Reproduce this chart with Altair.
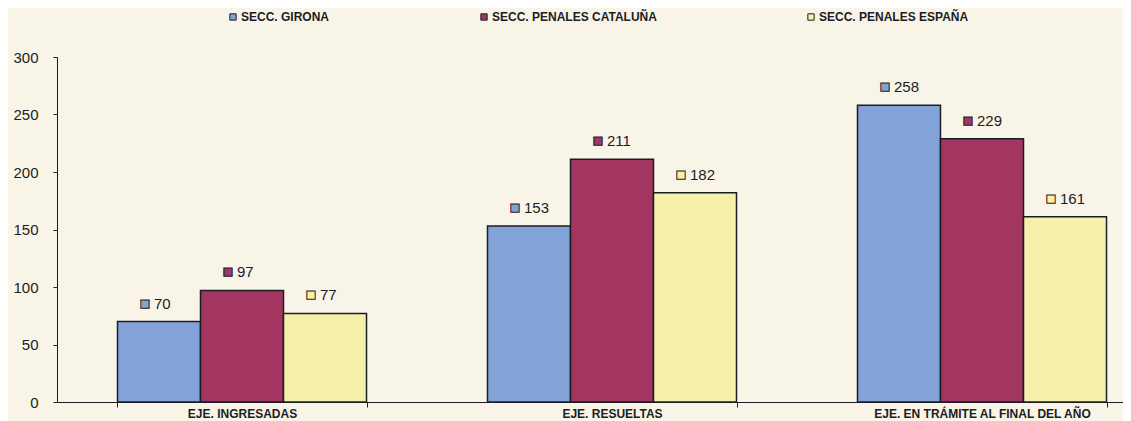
import altair as alt
import pandas as pd

categories = ["EJE. INGRESADAS", "EJE. RESUELTAS", "EJE. EN TRÁMITE AL FINAL DEL AÑO"]
series = ["SECC. GIRONA", "SECC. PENALES CATALUÑA", "SECC. PENALES ESPAÑA"]
girona = [70, 153, 258]
cataluna = [97, 211, 229]
espana = [77, 182, 161]
colors = ["#82a2d8", "#a23660", "#f7f0ab"]
y_ticks = [0, 50, 100, 150, 200, 250, 300]

rows = []
for i, c in enumerate(categories):
    for s, vals in zip(series, [girona, cataluna, espana]):
        rows.append({"cat": c, "serie": s, "valor": vals[i]})
df = pd.DataFrame(rows)

DARK = "#1c1c24"

x_enc = alt.X(
    "cat:N",
    sort=categories,
    scale=alt.Scale(range=[0, 1110], paddingInner=0.327, paddingOuter=0.1635),
    axis=alt.Axis(
        title=None, labelAngle=0, tickBand="extent", tickSize=5,
        labelPadding=1, labelFont="Liberation Sans", labelFontWeight="bold",
        labelFontSize=12, labelColor=DARK, domainColor=DARK, tickColor=DARK,
        labelLimit=400,
    ),
)
xo_enc = alt.XOffset("serie:N", sort=series, scale=alt.Scale(paddingInner=0, paddingOuter=0))
y_enc = alt.Y(
    "valor:Q",
    scale=alt.Scale(domain=[0, 300], nice=False),
    axis=alt.Axis(
        title=None, values=y_ticks, grid=False, tickSize=4, labelPadding=15,
        labelFont="Liberation Sans", labelFontSize=15, labelColor=DARK,
        domainColor=DARK, tickColor=DARK,
    ),
)
color_scale = alt.Scale(domain=series, range=colors)

bars = alt.Chart(df).mark_bar(stroke=DARK, strokeWidth=1.5).encode(
    x=x_enc, xOffset=xo_enc, y=y_enc,
    color=alt.Color(
        "serie:N", sort=series, scale=color_scale,
        legend=alt.Legend(
            title=None, orient="none", legendX=170, legendY=-46,
            direction="horizontal", symbolType="square", symbolSize=40,
            symbolStrokeColor=DARK, symbolStrokeWidth=1, labelFont="Liberation Sans",
            labelFontWeight="bold", labelFontSize=12, labelColor=DARK,
            columnPadding=148, labelOffset=2, labelLimit=400,
        ),
    ),
)

markers = alt.Chart(df).mark_text(
    text="■", align="center", baseline="middle", dx=-14, dy=-18,
    fontSize=11, font="DejaVu Sans", stroke=DARK, strokeWidth=1,
).encode(
    x=x_enc, xOffset=xo_enc, y=y_enc,
    color=alt.Color("serie:N", sort=series, scale=color_scale),
)

labels = alt.Chart(df).mark_text(
    align="left", baseline="middle", dx=-5, dy=-18, fontSize=15,
    font="Liberation Sans", color=DARK,
).encode(x=x_enc, xOffset=xo_enc, y=y_enc, text="valor:Q")

chart = (
    alt.layer(bars, markers, labels)
    .properties(
        width=1066, height=345,
        autosize=alt.AutoSizeParams(type="none"),
        padding={"left": 49, "top": 49, "right": 0, "bottom": 19},
        background="#f8f5e8",
    )
    .configure_view(stroke=None)
)

chart.save("out.html", embed_options={"renderer": "svg", "actions": False})
